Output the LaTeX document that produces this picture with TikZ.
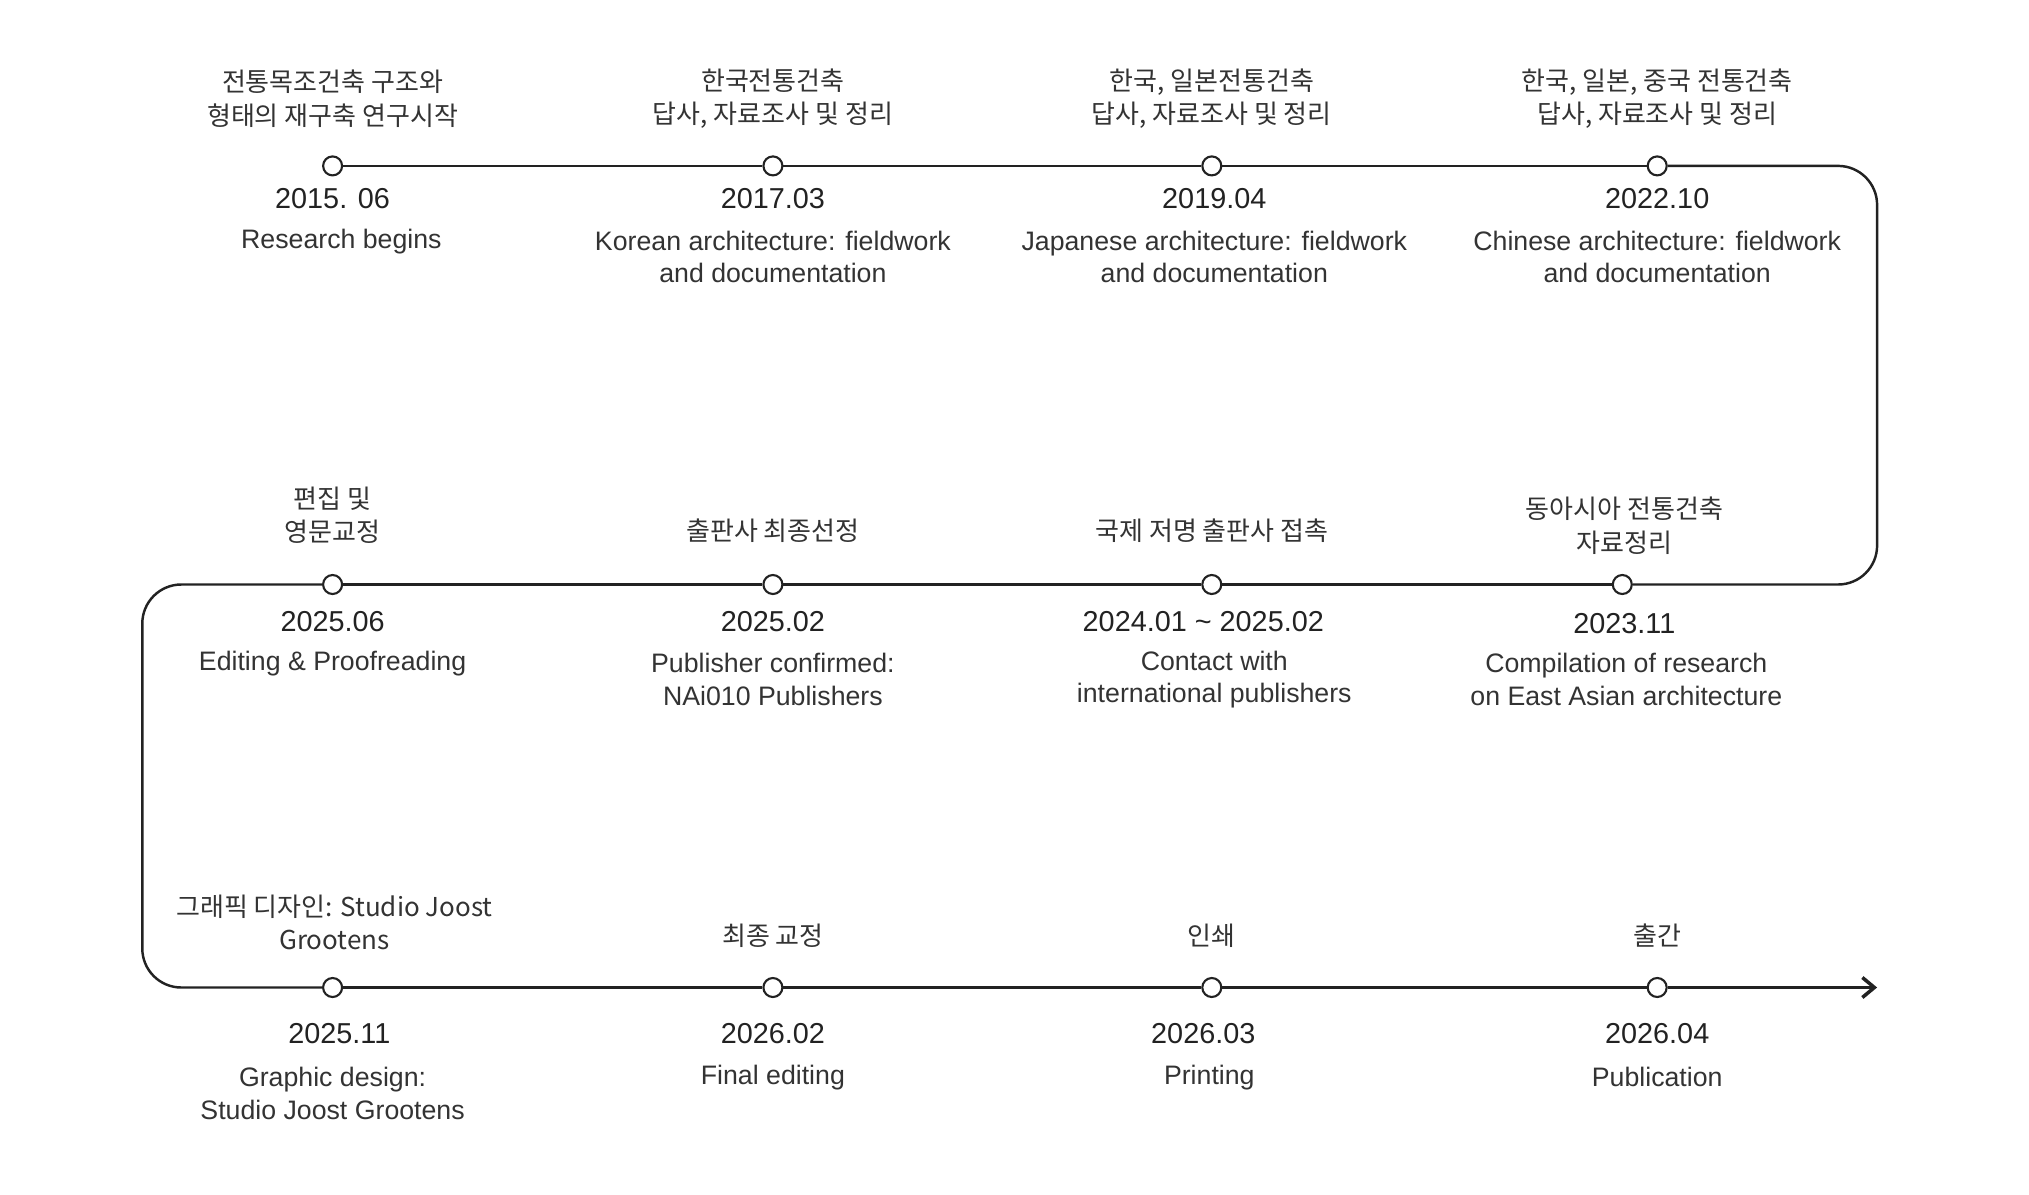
\documentclass[tikz,border=0pt]{standalone}
\usepackage{fontspec}
\setmainfont{Liberation Sans}
\newfontfamily\kor{Noto Sans CJK KR}
\usetikzlibrary{arrows.meta}
\definecolor{ink}{HTML}{222222}

\begin{document}
\begin{tikzpicture}[
		line/.style={line width=0.7pt, color=ink},
		dot/.style={circle, draw=ink, line width=0.6pt, fill=white, minimum size=0.19cm, inner sep=0pt},
		date/.style={font=\fontsize{8.2}{10}\selectfont, text=ink},
		txt/.style={font=\fontsize{7.6}{9.3}\selectfont, text=black!80, align=center},
		ktxt/.style={font=\kor\fontsize{7.4}{9.6}\selectfont, text=black!80, align=center}]
		\useasboundingbox (0,0) rectangle (20.29,-11.95);
		% points on the line
		\node[dot] (c11) at (3.326,-1.659) {};
		\node[dot] (c12) at (7.729,-1.659) {};
		\node[dot] (c13) at (12.118,-1.659) {};
		\node[dot] (c14) at (16.572,-1.659) {};
		\node[dot] (c21) at (3.326,-5.845) {};
		\node[dot] (c22) at (7.729,-5.845) {};
		\node[dot] (c23) at (12.118,-5.845) {};
		\node[dot] (c24) at (16.223,-5.845) {};
		\node[dot] (c31) at (3.326,-9.875) {};
		\node[dot] (c32) at (7.729,-9.875) {};
		\node[dot] (c33) at (12.118,-9.875) {};
		\node[dot] (c34) at (16.572,-9.875) {};
		\coordinate (tr) at (18.771,-1.659);
		\coordinate (br) at (18.771,-5.845);
		\coordinate (tl) at (1.423,-5.845);
		\coordinate (bl) at (1.423,-9.875);
		\coordinate (end) at (18.771,-9.875);
		% the line
		\draw[line] (c11)--(c12)--(c13)--(c14);
		\draw[line][rounded corners=0.39cm] (c14)--(tr)--(br)--(c24);
		\draw[line] (c24)--(c23)--(c22)--(c21);
		\draw[line][rounded corners=0.39cm] (c21)--(tl)--(bl)--(c31);
		\draw[line] (c31)--(c32)--(c33)--(c34);
		\draw[line][-{Straight Barb[length=1.2mm, width=2mm, line width=1pt]}] (c34)--(end);
		% first row
		\node[ktxt] (k11) at (3.326,-0.987) {전통목조건축 구조와\\형태의 재구축 연구시작};
		\node[ktxt] (k12) at (7.729,-0.987) {한국전통건축\\답사, 자료조사 및 정리};
		\node[ktxt] (k13) at (12.118,-0.987) {한국, 일본전통건축\\답사, 자료조사 및 정리};
		\node[ktxt] (k14) at (16.572,-0.987) {한국, 일본, 중국 전통건축\\답사, 자료조사 및 정리};
		\node[date] (d11) at (3.326,-1.983) {2015. 06};
		\node[date] (d12) at (7.729,-1.983) {2017.03};
		\node[date] (d13) at (12.143,-1.983) {2019.04};
		\node[date] (d14) at (16.572,-1.983) {2022.10};
		\node[txt] (e11) at (3.414,-2.412) {Research begins};
		\node[txt] (e12) at (7.729,-2.571) {Korean architecture: fieldwork\\and documentation};
		\node[txt] (e13) at (12.143,-2.571) {Japanese architecture: fieldwork\\and documentation};
		\node[txt] (e14) at (16.572,-2.571) {Chinese architecture: fieldwork\\and documentation};
		% second row
		\node[ktxt] (k21) at (3.326,-5.152) {편집 및\\영문교정};
		\node[ktxt] (k22) at (7.729,-5.311) {출판사 최종선정};
		\node[ktxt] (k23) at (12.118,-5.311) {국제 저명 출판사 접촉};
		\node[ktxt] (k24) at (16.243,-5.257) {동아시아 전통건축\\자료정리};
		\node[date] (d21) at (3.326,-6.218) {2025.06};
		\node[date] (d22) at (7.729,-6.218) {2025.02};
		\node[date] (d23) at (12.033,-6.218) {2024.01 \textasciitilde{} 2025.02};
		\node[date] (d24) at (16.243,-6.238) {2023.11};
		\node[txt] (e21) at (3.326,-6.637) {Editing \& Proofreading};
		\node[txt] (e22) at (7.729,-6.796) {Publisher confirmed:\\NAi010 Publishers};
		\node[txt] (e23) at (12.143,-6.796) {Contact with\\international publishers};
		\node[txt] (e24) at (16.263,-6.796) {Compilation of research\\on East Asian architecture};
		% third row
		\node[ktxt] (k31) at (3.344,-9.223) {그래픽 디자인: Studio Joost\\Grootens};
		\node[ktxt] (k32) at (7.729,-9.357) {최종 교정};
		\node[ktxt] (k33) at (12.118,-9.357) {인쇄};
		\node[ktxt] (k34) at (16.572,-9.357) {출간};
		\node[date] (d31) at (3.394,-10.334) {2025.11};
		\node[date] (d32) at (7.729,-10.334) {2026.02};
		\node[date] (d33) at (12.033,-10.334) {2026.03};
		\node[date] (d34) at (16.572,-10.334) {2026.04};
		\node[txt] (e31) at (3.326,-10.932) {Graphic design:\\Studio Joost Grootens};
		\node[txt] (e32) at (7.729,-10.772) {Final editing};
		\node[txt] (e33) at (12.093,-10.772) {Printing};
		\node[txt] (e34) at (16.572,-10.772) {Publication};
	\end{tikzpicture}
\end{document}
